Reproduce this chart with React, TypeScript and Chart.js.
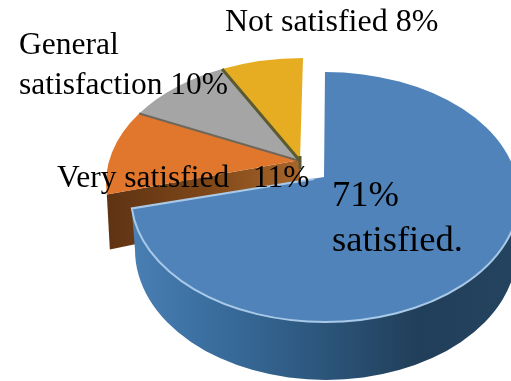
import React, { useEffect, useRef } from "react";
import { Chart, registerables } from "chart.js";

Chart.register(...registerables);

// Survey shares, clockwise from twelve o'clock.
const categories = ["Satisfied", "Very satisfied", "General satisfaction", "Not satisfied"];
const shares = [71, 11, 10, 8];
const sliceColors = ["#5083b9", "#e0772c", "#a5a5a5", "#e6ad22"];

const SERIF = '"Liberation Serif", "Times New Roman", serif';
const captions = [
  { text: "Not satisfied 8%", x: 225, y: 31, size: 32 },
  { text: "General", x: 19, y: 54, size: 31.5 },
  { text: "satisfaction 10%", x: 19, y: 94, size: 31.5 },
  { text: "Very satisfied   11%", x: 57, y: 187, size: 31.5 },
  { text: "71%", x: 332, y: 206, size: 36.5 },
  { text: "satisfied.", x: 332, y: 251, size: 36.5 },
];

type Disc = { cx: number; cy: number; a: number; b: number; ax: number; ay: number };

// The large slice is pulled out towards the viewer; the others share one disc.
const frontDisc: Disc = { cx: 325, cy: 197, a: 194, b: 125, ax: 324, ay: 177 };
const backDisc: Disc = { cx: 303, cy: 183, a: 197, b: 125, ax: 300, ay: 160 };
const frontBase = { cx: 326, cy: 250, a: 191, b: 130 };

// Perspective foreshortening: the near half of the disc takes up more of the rim.
const tilt = (clockwise: number) => clockwise - 0.165 * Math.sin(clockwise);
const toCanvas = (clockwise: number) => clockwise - Math.PI / 2;
const rimPoint = (d: Disc, t: number) => ({
  x: d.cx + d.a * Math.cos(toCanvas(t)),
  y: d.cy + d.b * Math.sin(toCanvas(t)),
});

function traceSlice(ctx: CanvasRenderingContext2D, d: Disc, t0: number, t1: number) {
  ctx.beginPath();
  ctx.moveTo(d.ax, d.ay);
  ctx.ellipse(d.cx, d.cy, d.a, d.b, 0, toCanvas(t0), toCanvas(t1));
  ctx.closePath();
}

function hGradient(ctx: CanvasRenderingContext2D, x0: number, x1: number, stops: [number, string][]) {
  const g = ctx.createLinearGradient(x0, 0, x1, 0);
  stops.forEach(([p, c]) => g.addColorStop(p, c));
  return g;
}

const perspectivePie = {
  id: "perspectivePie",
  beforeDatasetsDraw(chart: any) {
    const ctx: CanvasRenderingContext2D = chart.ctx;
    const arcs = chart.getDatasetMeta(0).data;
    const angles = arcs.map((arc: any) => {
      const { startAngle, endAngle } = arc.getProps(["startAngle", "endAngle"], true);
      return [tilt(startAngle + Math.PI / 2), tilt(endAngle + Math.PI / 2)];
    });
    const colors = chart.data.datasets[0].backgroundColor as string[];

    ctx.save();

    // Cut wall of the slice that sits behind the large one.
    const e = rimPoint(backDisc, angles[1][0]);
    ctx.beginPath();
    ctx.moveTo(e.x, e.y);
    ctx.lineTo(backDisc.ax, backDisc.ay);
    ctx.lineTo(backDisc.ax, backDisc.ay + 50);
    ctx.lineTo(e.x + 3, e.y + 55);
    ctx.closePath();
    ctx.fillStyle = hGradient(ctx, e.x, backDisc.ax, [
      [0, "#5f3313"],
      [0.5, "#7d4618"],
      [1, "#a8652a"],
    ]);
    ctx.fill();

    // Top faces of the three back slices.
    for (let i = 1; i < 4; i++) {
      traceSlice(ctx, backDisc, angles[i][0], angles[i][1]);
      ctx.fillStyle = colors[i];
      ctx.fill();
    }

    // Thin wall slivers where the back slices meet.
    const seam = (t: number, color: string, width: number) => {
      const p = rimPoint(backDisc, t);
      ctx.beginPath();
      ctx.moveTo(p.x, p.y);
      ctx.lineTo(backDisc.ax, backDisc.ay + 1);
      ctx.strokeStyle = color;
      ctx.lineWidth = width;
      ctx.stroke();
    };
    seam(angles[2][0], "#6e675c", 2);
    seam(angles[3][0], "#5c5a30", 3);
    ctx.beginPath();
    ctx.moveTo(backDisc.ax, backDisc.ay - 4);
    ctx.lineTo(backDisc.ax, backDisc.ay + 9);
    ctx.strokeStyle = "#5c5a30";
    ctx.lineWidth = 3;
    ctx.stroke();

    // Outer wall of the large slice, then its top face and highlight.
    const t0 = angles[0][0];
    const t1 = angles[0][1];
    ctx.beginPath();
    ctx.ellipse(frontDisc.cx, frontDisc.cy, frontDisc.a, frontDisc.b, 0, 0, toCanvas(t1));
    ctx.ellipse(frontBase.cx, frontBase.cy, frontBase.a, frontBase.b, 0, Math.PI, 0, true);
    ctx.closePath();
    ctx.fillStyle = hGradient(ctx, 132, 511, [
      [0, "#4a7fb4"],
      [0.18, "#3c70a2"],
      [0.45, "#2e5a82"],
      [0.75, "#213f5a"],
      [1, "#24435f"],
    ]);
    ctx.fill();

    traceSlice(ctx, frontDisc, t0, t1);
    ctx.fillStyle = colors[0];
    ctx.fill();

    ctx.beginPath();
    ctx.ellipse(frontDisc.cx, frontDisc.cy, frontDisc.a, frontDisc.b, 0, 0, toCanvas(t1));
    ctx.lineTo(frontDisc.ax - 10, frontDisc.ay + 2);
    ctx.strokeStyle = "#a9c9e8";
    ctx.lineWidth = 2;
    ctx.stroke();

    ctx.restore();
    return false;
  },
  afterDraw(chart: any) {
    const ctx: CanvasRenderingContext2D = chart.ctx;
    ctx.save();
    ctx.fillStyle = "#000000";
    ctx.textAlign = "left";
    ctx.textBaseline = "alphabetic";
    captions.forEach((c) => {
      ctx.font = `${c.size}px ${SERIF}`;
      ctx.fillText(c.text, c.x, c.y);
    });
    ctx.restore();
  },
};

export default function App() {
  const canvasRef = useRef<HTMLCanvasElement>(null);

  useEffect(() => {
    const chart = new Chart(canvasRef.current!, {
      type: "pie",
      data: {
        labels: categories,
        datasets: [{ data: shares, backgroundColor: sliceColors, borderWidth: 0 }],
      },
      options: {
        animation: false,
        responsive: false,
        plugins: { legend: { display: false }, tooltip: { enabled: false } },
      },
      plugins: [perspectivePie],
    });
    return () => chart.destroy();
  }, []);

  return (
    <div style={{ position: "fixed", left: 0, top: 0, width: 511, height: 381, overflow: "hidden", background: "#fff" }}>
      <canvas ref={canvasRef} width={511} height={381} style={{ display: "block" }} />
    </div>
  );
}
